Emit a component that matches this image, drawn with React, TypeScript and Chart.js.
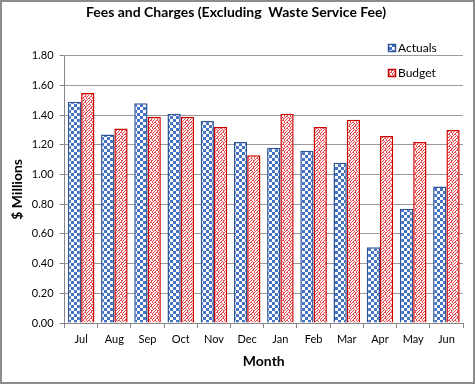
import React, { useEffect, useRef } from "react";
import { Chart, registerables } from "chart.js";

Chart.register(...registerables);

const months = ["Jul", "Aug", "Sep", "Oct", "Nov", "Dec", "Jan", "Feb", "Mar", "Apr", "May", "Jun"];
const actuals = [1.49, 1.27, 1.48, 1.41, 1.36, 1.22, 1.18, 1.16, 1.08, 0.51, 0.77, 0.92];
const budget = [1.55, 1.31, 1.39, 1.39, 1.32, 1.13, 1.41, 1.32, 1.37, 1.26, 1.22, 1.3];
const chartTitle = "Fees and Charges (Excluding  Waste Service Fee)";
const yTitle = "$ Millions";
const xTitle = "Month";

const FONT = "Lato, 'Open Sans', 'Liberation Sans', sans-serif";

function makeChecker(): CanvasPattern | string {
  const c = document.createElement("canvas");
  c.width = 6;
  c.height = 6;
  const g = c.getContext("2d");
  if (!g) return "#4F7EC9";
  g.fillStyle = "#ffffff";
  g.fillRect(0, 0, 6, 6);
  g.fillStyle = "#4472C4";
  g.fillRect(0, 0, 3, 3);
  g.fillRect(3, 3, 3, 3);
  const p = g.createPattern(c, "repeat");
  return p || "#4F7EC9";
}

function makeWeave(): CanvasPattern | string {
  const c = document.createElement("canvas");
  c.width = 6;
  c.height = 6;
  const g = c.getContext("2d");
  if (!g) return "#E06060";
  g.fillStyle = "#ffffff";
  g.fillRect(0, 0, 6, 6);
  g.fillStyle = "#E8484A";
  const px = [
    [0, 0], [2, 0], [3, 0],
    [1, 1], [4, 1],
    [0, 2], [3, 2], [5, 2],
    [2, 3], [5, 3],
    [1, 4], [4, 4], [5, 4],
    [0, 5], [3, 5],
  ];
  px.forEach(([x, y]) => g.fillRect(x, y, 1, 1));
  const p = g.createPattern(c, "repeat");
  return p || "#E06060";
}

export default function App() {
  const ref = useRef<HTMLCanvasElement | null>(null);

  useEffect(() => {
    document.body.style.margin = "0";
    const canvas = ref.current;
    if (!canvas) return;
    const checker = makeChecker();
    const weave = makeWeave();

    const legendPlugin = {
      id: "customLegend",
      afterDraw(chart: any) {
        const ctx = chart.ctx;
        const items = [
          { label: chart.data.datasets[0].label, fill: checker, stroke: "#2F5597", y: 46 },
          { label: chart.data.datasets[1].label, fill: weave, stroke: "#D00000", y: 71 },
        ];
        ctx.save();
        items.forEach((it) => {
          ctx.fillStyle = it.fill;
          ctx.fillRect(386, it.y - 4, 8, 8);
          ctx.strokeStyle = it.stroke;
          ctx.lineWidth = 1.5;
          ctx.strokeRect(386.5, it.y - 3.5, 7, 7);
          ctx.fillStyle = "#000";
          ctx.font = `12px ${FONT}`;
          ctx.textBaseline = "middle";
          ctx.fillText(it.label, 396, it.y);
        });
        ctx.restore();
      },
    };

    const chart = new Chart(canvas, {
      type: "bar",
      data: {
        labels: months,
        datasets: [
          {
            label: "Actuals",
            data: actuals,
            backgroundColor: checker as any,
            borderColor: "#2F5597",
            borderWidth: 1.5,
            categoryPercentage: 0.8,
            barPercentage: 1.0,
          },
          {
            label: "Budget",
            data: budget,
            backgroundColor: weave as any,
            borderColor: "#D00000",
            borderWidth: 1.5,
            categoryPercentage: 0.8,
            barPercentage: 1.0,
          },
        ],
      },
      options: {
        animation: false,
        responsive: false,
        maintainAspectRatio: false,
        layout: { padding: { left: 7, right: 10, top: 2, bottom: 12 } },
        plugins: {
          legend: { display: false },
          tooltip: { enabled: false },
          title: {
            display: true,
            text: chartTitle,
            color: "#000",
            font: { family: FONT, size: 14, weight: "bold" },
            padding: { top: 0, bottom: 35 },
          },
        },
        scales: {
          x: {
            offset: true,
            grid: {
              offset: true,
              drawOnChartArea: false,
              drawTicks: true,
              tickLength: 5,
              color: "#868686",
            },
            border: { color: "#868686", width: 1 },
            ticks: {
              color: "#000",
              font: { family: FONT, size: 11 },
              padding: 5,
              maxRotation: 0,
            },
            title: {
              display: true,
              text: xTitle,
              color: "#000",
              font: { family: FONT, size: 14, weight: "bold" },
              padding: { top: 2, bottom: 0 },
            },
          },
          y: {
            min: 0,
            max: 1.8,
            ticks: {
              stepSize: 0.2,
              color: "#000",
              font: { family: FONT, size: 11 },
              padding: 6,
              callback: (v: any) => Number(v).toFixed(2),
            },
            grid: {
              color: "#9a9a9a",
              lineWidth: 1,
              tickLength: 5,
              tickColor: "#868686",
            },
            border: { color: "#868686", width: 1 },
            title: {
              display: true,
              text: yTitle,
              color: "#000",
              font: { family: FONT, size: 14, weight: "bold" },
              padding: { top: 0, bottom: 0 },
            },
          },
        },
      },
      plugins: [legendPlugin],
    });
    return () => chart.destroy();
  }, []);

  return (
    <div
      style={{
        width: 475,
        height: 384,
        boxSizing: "border-box",
        border: "2px solid #8c8c8c",
        background: "#fff",
        overflow: "hidden",
      }}
    >
      <canvas ref={ref} width={471} height={380} style={{ display: "block" }} />
    </div>
  );
}
